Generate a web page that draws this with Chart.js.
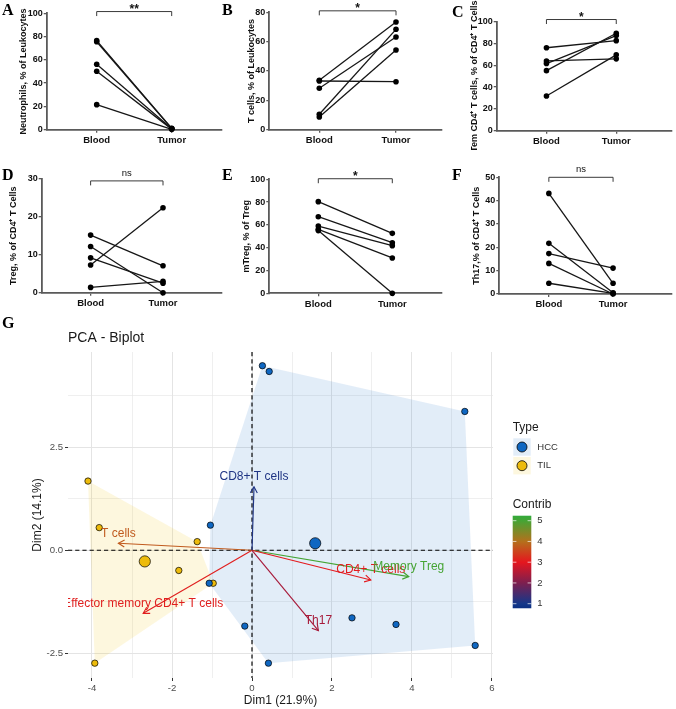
<!DOCTYPE html>
<html><head><meta charset="utf-8">
<script src="https://cdn.jsdelivr.net/npm/chart.js@4.4.1/dist/chart.umd.min.js"></script>
<style>
html,body{margin:0;padding:0;background:#fff;}
#root{position:relative;width:676px;height:709px;overflow:hidden;background:#fff;}
canvas{position:absolute;}
.lab{position:absolute;font-family:'Liberation Serif',serif;font-weight:bold;font-size:16px;line-height:16px;color:#000;}
</style></head><body><div id="root">
<canvas id="cA"></canvas><canvas id="cB"></canvas><canvas id="cC"></canvas>
<canvas id="cD"></canvas><canvas id="cE"></canvas><canvas id="cF"></canvas>
<canvas id="cG"></canvas>
<div class="lab" style="left:2px;top:1.6px">A</div>
<div class="lab" style="left:222px;top:1.6px">B</div>
<div class="lab" style="left:452px;top:3.6px">C</div>
<div class="lab" style="left:2px;top:166.6px">D</div>
<div class="lab" style="left:222px;top:166.6px">E</div>
<div class="lab" style="left:452px;top:166.6px">F</div>
<div class="lab" style="left:2px;top:314.6px">G</div>
</div>
<script>
// ---------- DATA ----------
const groups = ['Blood', 'Tumor'];

const neutroBlood = [76.5, 75.6, 56.2, 50.2, 21.5];
const neutroTumor = [1.2, 1.0, 0.8, 0.5, 0.3];
const neutroTicks = [0, 20, 40, 60, 80, 100];

const tcellBlood = [33.7, 33.2, 28.2, 10.5, 8.7];
const tcellTumor = [73.4, 32.7, 63.2, 68.4, 54.3];
const tcellTicks = [0, 20, 40, 60, 80];

const temBlood = [76.1, 64.0, 61.6, 55.1, 31.8];
const temTumor = [82.6, 65.9, 87.3, 89.4, 69.6];
const temTicks = [0, 20, 40, 60, 80, 100];

const tregBlood = [15.2, 12.2, 9.2, 7.3, 1.4];
const tregTumor = [7.1, 0.0, 2.5, 22.4, 3.0];
const tregTicks = [0, 10, 20, 30];

const mtregBlood = [80.4, 67.2, 59.0, 56.1, 55.0];
const mtregTumor = [52.6, 44.4, 41.8, 31.0, 0.0];
const mtregTicks = [0, 20, 40, 60, 80, 100];

const th17Blood = [43.1, 21.7, 17.3, 13.1, 4.6];
const th17Tumor = [4.6, 0.5, 11.1, 0.0, 0.3];
const th17Ticks = [0, 10, 20, 30, 40, 50];

const sigLabels = ['**', '*', '*', 'ns', '*', 'ns'];

// PCA biplot
const hccDim1 = [0.26, 0.43, 5.32, -1.04, -1.07, -0.18, 0.41, 2.50, 3.60, 5.58];
const hccDim2 = [4.48, 4.34, 3.37, 0.61, -0.80, -1.84, -2.74, -1.64, -1.80, -2.31];
const tilDim1 = [-4.10, -3.82, -1.37, -1.83, -0.97, -3.93];
const tilDim2 = [1.68, 0.55, 0.21, -0.49, -0.80, -2.74];
const meanDim1 = [1.58, -2.68];   // HCC, TIL group centres
const meanDim2 = [0.17, -0.27];
const varNames = ['CD8+ T cells', 'T cells', 'Effector memory CD4+ T cells', 'Th17', 'CD4+ T cells', 'Memory Treg'];
const varDim1 = [0.05, -3.34, -2.72, 1.66, 2.97, 3.92];
const varDim2 = [1.54, 0.17, -1.53, -1.95, -0.72, -0.64];
const varContrib = [1.1, 3.75, 3.1, 2.4, 3.05, 5.0];
const contribTicks = [1, 2, 3, 4, 5];
const dim1Ticks = [-4, -3, -2, -1, 0, 1, 2, 3, 4, 5, 6];
const dim2Ticks = [-2.5, -1.25, 0, 1.25, 2.5, 3.75];

// ---------- STYLE ----------
Chart.defaults.font.family = "'Liberation Sans', Arial, sans-serif";
const axisCol = '#5a5a5a';

function makePanel(id, geo, blood, tumor, ticks, ytitle, sig, bracketVal) {
  const cv = document.getElementById(id);
  cv.width = geo.w; cv.height = geo.h;
  cv.style.left = geo.left + 'px'; cv.style.top = geo.top + 'px';
  const titleFont = 9;
  const padLeft = geo.titleX - geo.left - titleFont * 0.6;
  const yW = geo.axisX - geo.left - padLeft;
  const padTop = geo.yTop - geo.top;
  const xH = geo.top + geo.h - geo.yZero;
  const padRight = geo.left + geo.w - geo.axisEnd;
  const unit = geo.tumorX - geo.bloodX;
  const xmin = 1 - (geo.bloodX - geo.axisX) / unit;
  const xmax = 2 + (geo.axisEnd - geo.tumorX) / unit;
  const datasets = blood.map((b, i) => ({
    data: [{x: 1, y: b}, {x: 2, y: tumor[i]}],
    borderColor: '#161616', borderWidth: 1.3,
    pointRadius: 2.8, pointBackgroundColor: '#000', pointBorderColor: '#000', pointBorderWidth: 0,
    clip: false, tension: 0
  }));
  const bracket = {
    id: 'bracket',
    afterDraw(chart) {
      const {ctx, scales: {x, y}} = chart;
      const x1 = x.getPixelForValue(1), x2 = x.getPixelForValue(2), yy = y.getPixelForValue(bracketVal);
      ctx.save();
      ctx.strokeStyle = '#3a3a3a'; ctx.lineWidth = 1;
      ctx.beginPath();
      ctx.moveTo(x1, yy + 4.5); ctx.lineTo(x1, yy); ctx.lineTo(x2, yy); ctx.lineTo(x2, yy + 4.5);
      ctx.stroke();
      ctx.fillStyle = '#111'; ctx.textAlign = 'center'; ctx.textBaseline = 'alphabetic';
      if (sig === 'ns') {
        ctx.font = "9.5px 'Liberation Sans', Arial";
        ctx.fillText(sig, (x1 + x2) / 2, yy - 5);
      } else {
        ctx.font = "bold 12px 'Liberation Sans', Arial";
        ctx.fillText(sig, (x1 + x2) / 2, yy + 1.5);
      }
      ctx.restore();
    }
  };
  new Chart(cv, {
    type: 'line',
    data: {datasets},
    options: {
      responsive: false, animation: false, devicePixelRatio: 1,
      layout: {padding: {left: padLeft, top: padTop, right: padRight, bottom: 0}},
      plugins: {legend: {display: false}, tooltip: {enabled: false}},
      scales: {
        x: {
          type: 'linear', min: xmin, max: xmax,
          afterBuildTicks: s => { s.ticks = [{value: 1}, {value: 2}]; },
          afterFit: s => { s.height = xH; },
          grid: {display: true, drawOnChartArea: false, drawTicks: true, tickLength: 3, color: axisCol, lineWidth: 1.3},
          border: {display: true, color: axisCol, width: 1.8},
          ticks: {callback: v => groups[Math.round(v) - 1], font: {weight: 'bold', size: 9.5}, color: '#111', padding: 2, maxRotation: 0, autoSkip: false}
        },
        y: {
          type: 'linear', min: 0, max: ticks[ticks.length - 1],
          afterBuildTicks: s => { s.ticks = ticks.map(v => ({value: v})); },
          afterFit: s => { s.width = yW; },
          grid: {display: true, drawOnChartArea: false, drawTicks: true, tickLength: 3, color: axisCol, lineWidth: 1.3},
          border: {display: true, color: axisCol, width: 1.8},
          ticks: {callback: v => String(v), font: {weight: 'bold', size: 9}, color: '#111', padding: 1},
          title: {display: true, text: ytitle, font: {weight: 'bold', size: titleFont}, color: '#111', padding: {top: 0, bottom: 0}}
        }
      }
    },
    plugins: [bracket]
  });
}

makePanel('cA', {left: 0, top: 0, w: 226, h: 150, axisX: 46.7, yTop: 13.3, yZero: 129.7, bloodX: 96.7, tumorX: 171.7, axisEnd: 221.7, titleX: 23.5},
  neutroBlood, neutroTumor, neutroTicks, 'Neutrophils, % of Leukocytes', sigLabels[0], 101.5);
makePanel('cB', {left: 226, top: 0, w: 220, h: 150, axisX: 269.3, yTop: 12.3, yZero: 129.7, bloodX: 319.3, tumorX: 396, axisEnd: 441.7, titleX: 251.5},
  tcellBlood, tcellTumor, tcellTicks, 'T cells, % of Leukocytes', sigLabels[1], 81);
makePanel('cC', {left: 446, top: 0, w: 230, h: 150, axisX: 496.7, yTop: 21.7, yZero: 130.7, bloodX: 547.3, tumorX: 618.3, axisEnd: 675, titleX: 475},
  temBlood, temTumor, temTicks, 'Tem CD4\u207A T cells, % of CD4\u207A T Cells', sigLabels[2], 102);
makePanel('cD', {left: 0, top: 150, w: 226, h: 160, axisX: 41.7, yTop: 179, yZero: 292.7, bloodX: 91.7, tumorX: 165.7, axisEnd: 226, titleX: 14},
  tregBlood, tregTumor, tregTicks, 'Treg, % of CD4\u207A T Cells', sigLabels[3], 29.5);
makePanel('cE', {left: 226, top: 150, w: 220, h: 160, axisX: 269.3, yTop: 179.3, yZero: 293.3, bloodX: 318.3, tumorX: 392.3, axisEnd: 441.7, titleX: 246.5},
  mtregBlood, mtregTumor, mtregTicks, 'mTreg, % of Treg', sigLabels[4], 100.5);
makePanel('cF', {left: 446, top: 150, w: 230, h: 160, axisX: 499.3, yTop: 177.3, yZero: 294, bloodX: 550, tumorX: 615.7, axisEnd: 676, titleX: 476.7},
  th17Blood, th17Tumor, th17Ticks, 'Th17,% of CD4\u207A T Cells', sigLabels[5], 50);

// ---------- PCA BIPLOT ----------
const contribStops = [[0.78, '#0a2f82'], [1, '#14378a'], [2, '#7d1f4f'], [3, '#e5161e'], [4, '#b4701c'], [5, '#45a434'], [5.24, '#33aa3b']];
function hex2rgb(h) { return [parseInt(h.slice(1, 3), 16), parseInt(h.slice(3, 5), 16), parseInt(h.slice(5, 7), 16)]; }
function contribColor(v) {
  for (let i = 0; i < contribStops.length - 1; i++) {
    const [v0, c0] = contribStops[i], [v1, c1] = contribStops[i + 1];
    if (v <= v1 || i === contribStops.length - 2) {
      const t = Math.max(0, Math.min(1, (v - v0) / (v1 - v0)));
      const a = hex2rgb(c0), b = hex2rgb(c1);
      return 'rgb(' + a.map((x, k) => Math.round(x + (b[k] - x) * t)).join(',') + ')';
    }
  }
}
function convexHull(points) {
  const pts = points.slice().sort((a, b) => a.x - b.x || a.y - b.y);
  const cross = (o, a, b) => (a.x - o.x) * (b.y - o.y) - (a.y - o.y) * (b.x - o.x);
  const lower = [], upper = [];
  for (const p of pts) { while (lower.length >= 2 && cross(lower[lower.length - 2], lower[lower.length - 1], p) <= 0) lower.pop(); lower.push(p); }
  for (let i = pts.length - 1; i >= 0; i--) { const p = pts[i]; while (upper.length >= 2 && cross(upper[upper.length - 2], upper[upper.length - 1], p) <= 0) upper.pop(); upper.push(p); }
  upper.pop(); lower.pop();
  return lower.concat(upper);
}
const hccPts = hccDim1.map((v, i) => ({x: v, y: hccDim2[i]}));
const tilPts = tilDim1.map((v, i) => ({x: v, y: tilDim2[i]}));
const hccCol = '#0f67c2', tilCol = '#EDBB0B';
const hccFill = 'rgba(0,95,190,0.115)', tilFill = 'rgba(240,192,0,0.13)';

const cvG = document.getElementById('cG');
const GT = 310;
cvG.width = 676; cvG.height = 399; cvG.style.left = '0px'; cvG.style.top = GT + 'px';

const arrowSets = varNames.map((n, i) => ({
  label: n, isArrow: true, varIndex: i,
  data: [{x: 0, y: 0}, {x: varDim1[i], y: varDim2[i]}],
  showLine: true, pointRadius: 0, borderColor: contribColor(varContrib[i]), borderWidth: 1.15, order: 2, clip: false
}));

const gPlugin = {
  id: 'gExtras',
  beforeDatasetsDraw(chart) {
    const {ctx, chartArea: ca, scales: {x, y}} = chart;
    ctx.save();
    ctx.beginPath(); ctx.rect(ca.left, ca.top, ca.width, ca.height); ctx.clip();
    [[hccPts, hccFill], [tilPts, tilFill]].forEach(([pts, col]) => {
      const h = convexHull(pts);
      ctx.beginPath();
      h.forEach((p, i) => { const px = x.getPixelForValue(p.x), py = y.getPixelForValue(p.y); if (i) ctx.lineTo(px, py); else ctx.moveTo(px, py); });
      ctx.closePath(); ctx.fillStyle = col; ctx.fill();
    });
    const x0 = x.getPixelForValue(0), y0 = y.getPixelForValue(0);
    ctx.setLineDash([4.2, 3]); ctx.strokeStyle = '#000'; ctx.lineWidth = 1.15;
    ctx.beginPath(); ctx.moveTo(x0, ca.top); ctx.lineTo(x0, ca.bottom); ctx.stroke();
    ctx.beginPath(); ctx.moveTo(ca.left, y0); ctx.lineTo(ca.right, y0); ctx.stroke();
    ctx.restore();
  },
  afterDatasetsDraw(chart) {
    const {ctx, chartArea: ca} = chart;
    ctx.save();
    ctx.beginPath(); ctx.rect(ca.left, ca.top, ca.width, ca.height); ctx.clip();
    chart.data.datasets.forEach((ds, di) => {
      if (!ds.isArrow) return;
      const meta = chart.getDatasetMeta(di);
      const p0 = meta.data[0], p1 = meta.data[1];
      const ang = Math.atan2(p1.y - p0.y, p1.x - p0.x);
      const L = 7, A = Math.PI / 6;
      ctx.strokeStyle = ds.borderColor; ctx.lineWidth = 1.15;
      ctx.beginPath();
      ctx.moveTo(p1.x - L * Math.cos(ang - A), p1.y - L * Math.sin(ang - A));
      ctx.lineTo(p1.x, p1.y);
      ctx.lineTo(p1.x - L * Math.cos(ang + A), p1.y - L * Math.sin(ang + A));
      ctx.stroke();
      ctx.fillStyle = ds.borderColor;
      ctx.font = "12px 'Liberation Sans', Arial";
      ctx.textAlign = 'center'; ctx.textBaseline = 'middle';
      ctx.fillText(ds.label, p1.x, p1.y - 10);
    });
    ctx.restore();
  },
  afterDraw(chart) {
    const {ctx} = chart;
    ctx.save();
    ctx.fillStyle = '#1a1a1a';
    ctx.font = "14px 'Liberation Sans', Arial";
    ctx.textAlign = 'left'; ctx.textBaseline = 'alphabetic';
    ctx.fillText('PCA - Biplot', 68, 342 - GT);
    // Type legend
    ctx.font = "12px 'Liberation Sans', Arial";
    ctx.fillText('Type', 512.7, 431 - GT);
    [['HCC', hccCol, hccFill, 438.3], ['TIL', tilCol, tilFill, 457]].forEach(([lab, col, fill, ty]) => {
      ctx.fillStyle = fill; ctx.fillRect(513.3, ty - GT, 17.4, 17.4);
      ctx.beginPath(); ctx.arc(522, ty + 8.7 - GT, 5, 0, 2 * Math.PI);
      ctx.fillStyle = col; ctx.fill(); ctx.strokeStyle = '#000'; ctx.lineWidth = 0.8; ctx.stroke();
      ctx.fillStyle = '#333'; ctx.font = "9.5px 'Liberation Sans', Arial"; ctx.textBaseline = 'middle';
      ctx.fillText(lab, 537.3, ty + 8.7 - GT);
    });
    // Contrib colour bar
    ctx.textBaseline = 'alphabetic'; ctx.fillStyle = '#1a1a1a'; ctx.font = "12px 'Liberation Sans', Arial";
    ctx.fillText('Contrib', 512.7, 508.3 - GT);
    const vMin = contribStops[0][0], vMax = contribStops[contribStops.length - 1][0];
    const yOf = v => 603.7 - (v - 1) * 20.75 - GT;
    const bx = 512.7, bw = 18.6, yTop = yOf(vMax), yBot = yOf(vMin);
    const grad = ctx.createLinearGradient(0, yBot, 0, yTop);
    contribStops.forEach(([v, c]) => grad.addColorStop((v - vMin) / (vMax - vMin), c));
    ctx.fillStyle = grad; ctx.fillRect(bx, yTop, bw, yBot - yTop);
    ctx.strokeStyle = 'rgba(255,255,255,0.85)'; ctx.lineWidth = 0.8;
    ctx.font = "9.5px 'Liberation Sans', Arial"; ctx.textBaseline = 'middle';
    contribTicks.forEach(v => {
      const yy = yOf(v);
      ctx.beginPath(); ctx.moveTo(bx, yy); ctx.lineTo(bx + 3.7, yy); ctx.moveTo(bx + bw - 3.7, yy); ctx.lineTo(bx + bw, yy); ctx.stroke();
      ctx.fillStyle = '#333'; ctx.fillText(String(v), 537.3, yy);
    });
    ctx.restore();
  }
};

const majorX = v => Math.abs(v) % 2 === 0;
const majorY = v => Math.abs(v) % 2.5 === 0;

new Chart(cvG, {
  type: 'scatter',
  data: {datasets: [
    {label: 'HCC', data: hccPts, pointRadius: 3.2, pointBackgroundColor: hccCol, pointBorderColor: '#000', pointBorderWidth: 0.7, order: 0, clip: false},
    {label: 'TIL', data: tilPts, pointRadius: 3.2, pointBackgroundColor: tilCol, pointBorderColor: '#000', pointBorderWidth: 0.7, order: 0, clip: false},
    {label: 'HCC mean', data: [{x: meanDim1[0], y: meanDim2[0]}], pointRadius: 5.6, pointBackgroundColor: hccCol, pointBorderColor: '#000', pointBorderWidth: 0.7, order: 0, clip: false},
    {label: 'TIL mean', data: [{x: meanDim1[1], y: meanDim2[1]}], pointRadius: 5.6, pointBackgroundColor: tilCol, pointBorderColor: '#000', pointBorderWidth: 0.7, order: 0, clip: false},
    ...arrowSets
  ]},
  options: {
    responsive: false, animation: false, devicePixelRatio: 1,
    layout: {padding: {left: 30.8, top: 352 - GT, right: 676 - 493, bottom: 0.8}},
    plugins: {legend: {display: false}, tooltip: {enabled: false}},
    scales: {
      x: {
        type: 'linear', min: -4.6, max: 6.025,
        afterBuildTicks: s => { s.ticks = dim1Ticks.map(v => ({value: v})); },
        afterFit: s => { s.height = 30.2; },
        grid: {color: '#e4e4e4', lineWidth: c => (c.tick && majorX(c.tick.value)) ? 1 : 0.6, drawTicks: true, tickLength: 3,
               tickColor: c => (c.tick && majorX(c.tick.value)) ? '#333' : 'rgba(0,0,0,0)', tickWidth: 1},
        border: {display: false},
        ticks: {callback: v => majorX(v) ? String(v) : '', color: '#4d4d4d', font: {size: 9.6}, padding: 2, autoSkip: false, maxRotation: 0},
        title: {display: true, text: 'Dim1 (21.9%)', font: {size: 12}, color: '#1a1a1a', padding: {top: 0, bottom: 0}}
      },
      y: {
        type: 'linear', min: -3.10, max: 4.813,
        afterBuildTicks: s => { s.ticks = dim2Ticks.map(v => ({value: v})); },
        afterFit: s => { s.width = 68 - 30.8; },
        grid: {color: '#e4e4e4', lineWidth: c => (c.tick && majorY(c.tick.value)) ? 1 : 0.6, drawTicks: true, tickLength: 3,
               tickColor: c => (c.tick && majorY(c.tick.value)) ? '#333' : 'rgba(0,0,0,0)', tickWidth: 1},
        border: {display: false},
        ticks: {callback: v => majorY(v) ? v.toFixed(1) : '', color: '#4d4d4d', font: {size: 9.6}, padding: 2, autoSkip: false},
        title: {display: true, text: 'Dim2 (14.1%)', font: {size: 12}, color: '#1a1a1a', padding: {top: 0, bottom: 0}}
      }
    }
  },
  plugins: [gPlugin]
});
</script>
</body></html>
